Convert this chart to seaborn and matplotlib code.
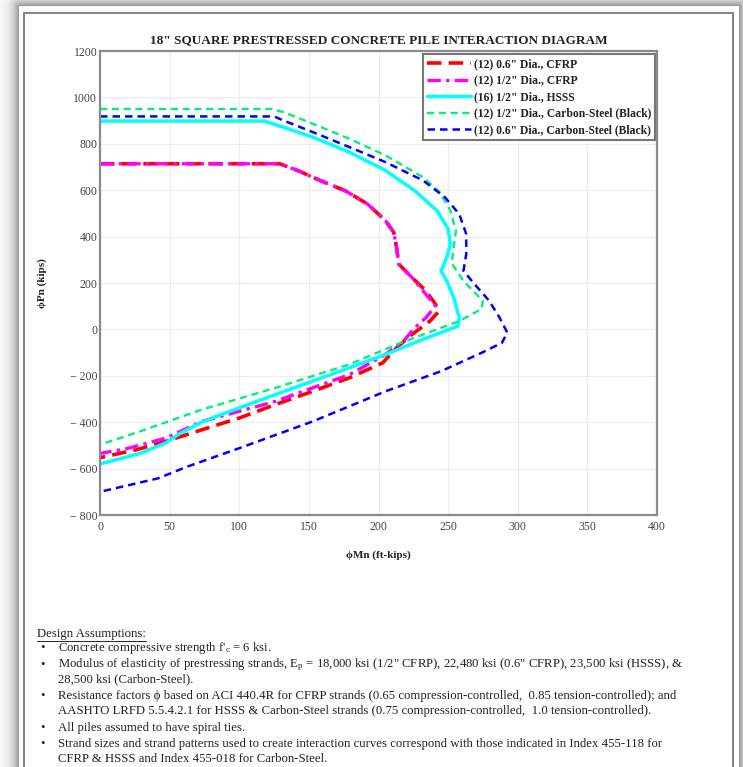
import numpy as np
import pandas as pd
import matplotlib
matplotlib.use("Agg")
import matplotlib.pyplot as plt
import seaborn as sns
from matplotlib.lines import Line2D
from matplotlib.patches import Rectangle
from matplotlib.ticker import FuncFormatter

# Interaction curves (phi*Mn in ft-kips, phi*Pn in kips)
labels = ['(12) 0.6" Dia., CFRP', '(12) 1/2" Dia., CFRP', '(16) 1/2" Dia., HSSS',
          '(12) 1/2" Dia., Carbon-Steel (Black)', '(12) 0.6" Dia., Carbon-Steel (Black)']

cfrp06_m = [0, 129, 142, 158, 176, 192, 205, 211, 213, 214.6, 224, 234, 241, 243.5, 237, 224, 213, 203,
            179, 152.6, 126, 100, 73, 47, 26, 0]
cfrp06_p = [714, 714, 685, 642, 598, 541, 469, 418, 353, 281, 224, 166, 108, 79, 36, -22, -79, -144,
            -209, -267, -324, -382, -433, -483, -519, -553]

cfrp05_m = [0, 129, 142, 158, 176, 192, 205, 211, 213, 214.6, 224, 236, 241, 234, 226, 218, 205, 179,
            152.6, 126, 100, 73, 47, 20.6, 0]
cfrp05_p = [714, 714, 685, 642, 598, 541, 469, 418, 353, 281, 224, 137, 101, 50, 7, -50, -108, -195,
            -252, -310, -353, -397, -469, -512, -535]

hsss_m = [0, 118, 131.5, 152.6, 179, 205, 226, 242, 250, 251.6, 249, 245, 249, 254, 258, 257, 232, 205,
          179, 126, 86.6, 73, 57, 47, 28.5, 0]
hsss_p = [898, 898, 872, 829, 764, 685, 598, 512, 433, 368, 310, 252, 209, 137, 50, 14, -43, -108,
          -166, -281, -368, -400, -450, -490, -535, -580]

cs05_m = [0, 123.6, 131.5, 152.6, 179, 205, 232, 244, 251.6, 255.6, 254, 252.6, 261, 275, 274, 258, 232,
          213, 179, 126, 73, 28.5, 0]
cs05_p = [950, 950, 937, 887, 822, 750, 656, 591, 512, 425, 355, 284, 209, 123, 88, 36, -22,
          -65, -151, -252, -346, -440, -497]

cs06_m = [0, 125, 131.5, 152.6, 179, 205, 232, 247.6, 258, 263, 263, 261, 269, 279.5, 287, 292.5, 288.6,
          274, 245, 205, 152.6, 100, 62, 41.7, 0]
cs06_p = [918, 918, 901, 851, 786, 721, 642, 570, 497, 411, 324, 252, 195, 123, 50, -14, -58,
          -101, -180, -267, -397, -512, -593, -642, -700]

x_ticks = [0, 50, 100, 150, 200, 250, 300, 350, 400]
y_ticks = [-800, -600, -400, -200, 0, 200, 400, 600, 800, 1000, 1200]

notes = [
    ["Concrete compressive strength f$'_\\mathrm{c}$ = 6 ksi."],
    ["Modulus of elasticity of prestressing strands, E$_\\mathrm{p}$ = 18,000 ksi (1/2\" CFRP), 22,480 ksi (0.6\" CFRP), 23,500 ksi (HSSS), &",
     "28,500 ksi (Carbon-Steel)."],
    ["Resistance factors \u03d5 based on ACI 440.4R for CFRP strands (0.65 compression-controlled,  0.85 tension-controlled); and",
     "AASHTO LRFD 5.5.4.2.1 for HSSS & Carbon-Steel strands (0.75 compression-controlled,  1.0 tension-controlled)."],
    ["All piles assumed to have spiral ties."],
    ["Strand sizes and strand patterns used to create interaction curves correspond with those indicated in Index 455-118 for",
     "CFRP & HSSS and Index 455-018 for Carbon-Steel."],
]

series = [(cfrp06_m, cfrp06_p), (cfrp05_m, cfrp05_p), (hsss_m, hsss_p), (cs05_m, cs05_p), (cs06_m, cs06_p)]
colors = ['#ff0000', '#ff00ff', '#00ffff', '#00f07a', '#0000ff']
widths = [2.6, 2.4, 2.5, 1.7, 1.8]
dashes = [(4, 2.0), (4, 1.6, 1, 1.6), None, (3, 2), (3, 2)]

sns.set_theme(style="white")
plt.rcParams['font.family'] = ['Liberation Serif', 'DejaVu Serif']
plt.rcParams['mathtext.fontset'] = 'custom'
plt.rcParams['mathtext.rm'] = 'Liberation Serif'
plt.rcParams['mathtext.it'] = 'Liberation Serif:italic'

W, H = 743, 767
fig = plt.figure(figsize=(W / 100, H / 100), dpi=100)
fig.patch.set_facecolor('white')

# page shadow around the document
yy, xx = np.mgrid[0:H, 0:W]
dx = np.maximum(np.maximum(19 - xx, xx - 738), 0)
dy = np.maximum(6 - yy, 0)
d = np.sqrt(dx ** 2 + dy ** 2)
shade = np.where((dx > 0) | (dy > 0), 1 - 0.45 * np.exp(-d / 7.0), 1.0)
bgax = fig.add_axes([0, 0, 1, 1], zorder=-5)
bgax.imshow(shade, cmap='gray', vmin=0, vmax=1, aspect='auto', interpolation='nearest')
bgax.axis('off')
fig.add_artist(Rectangle((24 / W, -0.02), (733 - 24) / W, (H - 13) / H + 0.02,
                         transform=fig.transFigure, fill=False, ec='#7a7a7a', lw=1.3))

ax = fig.add_axes([100 / W, 1 - 515 / H, 557 / W, 464 / H])
ax.set_facecolor('white')

for (m, p), lab, c, lw, ds in zip(series, labels, colors, widths, dashes):
    df = pd.DataFrame({'Mn': m, 'Pn': p})
    sns.lineplot(data=df, x='Mn', y='Pn', sort=False, estimator=None, ax=ax,
                 color=c, lw=lw, label=lab)
    line = ax.lines[-1]
    if ds is not None:
        line.set_dashes(ds)
    line.set_dash_capstyle('butt')

ax.set_xlim(0, 400)
ax.set_ylim(-800, 1200)
ax.set_xticks(x_ticks)
ax.set_yticks(y_ticks)
ax.yaxis.set_major_formatter(FuncFormatter(lambda v, pos: f"\u2212 {abs(int(v))}" if v < 0 else f"{int(v)}"))
ax.grid(True, color='#ededed', lw=0.8)
ax.tick_params(axis='both', length=0, pad=2, labelsize=8.5, labelcolor='#444444')
ax.tick_params(axis='x', pad=4)
for s in ax.spines.values():
    s.set_color('#8a8a8a')
    s.set_linewidth(1.6)

ax.set_xlabel('\u03d5Mn (ft-kips)', fontsize=8, fontweight='bold', labelpad=13, color='#222222')
ax.set_ylabel('\u03d5Pn (kips)', fontsize=8, fontweight='bold', labelpad=16, color='#222222')
ax.set_title('18" SQUARE PRESTRESSED CONCRETE PILE INTERACTION DIAGRAM',
             fontsize=9.5, fontweight='bold', pad=6, color='#222222')

leg = ax.legend(loc='upper right', bbox_to_anchor=(0.997, 0.993), fancybox=False, framealpha=1,
                prop={'weight': 'bold', 'size': 8.4}, handlelength=3.8, handletextpad=0.25,
                borderpad=0.35, labelspacing=0.38, borderaxespad=0)
leg.get_frame().set_edgecolor('#777777')
leg.get_frame().set_linewidth(1.5)
for t in leg.get_texts():
    t.set_color('#222222')

# design assumptions block
fs = 9.2
head = fig.text(37 / W, 1 - 634 / H, 'Design Assumptions:', fontsize=fs, va='center', color='#222222')
fig.canvas.draw()
bb = head.get_window_extent()
fig.add_artist(Line2D([bb.x0 / W, bb.x1 / W], [(bb.y0 - 0.5) / H] * 2, color='#222222', lw=0.7))

y = 648
for item in notes:
    fig.text(40 / W, 1 - y / H, '\u2022', fontsize=fs, va='center', color='#222222')
    for k, txt in enumerate(item):
        fig.text(58 / W, 1 - y / H, txt, fontsize=fs, va='center', color='#222222')
        y += 15 if k < len(item) - 1 else 0
    y += 16.5

fig.savefig('out.png', dpi=100)
